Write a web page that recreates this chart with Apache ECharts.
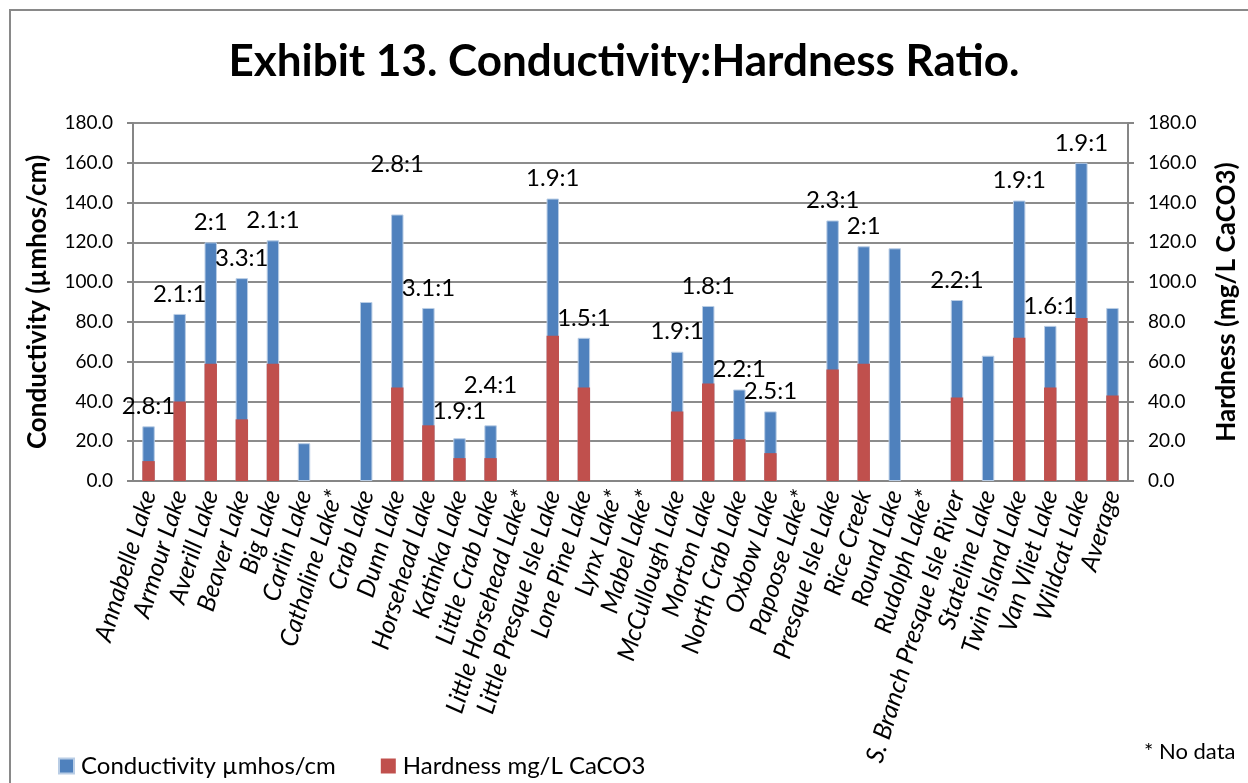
<!DOCTYPE html>
<html><head><meta charset="utf-8">
<script src="https://cdn.jsdelivr.net/npm/echarts@6/dist/echarts.min.js"></script>
<style>html,body{margin:0;padding:0;background:#fff}#c{width:1248px;height:783px}</style>
</head><body><div id="c"></div>
<script>
const categories = ["Annabelle Lake","Armour Lake","Averill Lake","Beaver Lake","Big Lake","Carlin Lake","Cathaline Lake*","Crab Lake","Dunn Lake","Horsehead Lake","Katinka Lake","Little Crab Lake","Little Horsehead Lake*","Little Presque Isle Lake","Lone Pine Lake","Lynx Lake*","Mabel Lake*","McCullough Lake","Morton Lake","North Crab Lake","Oxbow Lake","Papoose Lake*","Presque Isle Lake","Rice Creek","Round Lake","Rudolph Lake*","S. Branch Presque Isle River","Stateline Lake","Twin Island Lake","Van Vliet Lake","Wildcat Lake","Average"];
const conductivity = [27.5,84,120,102,121,19,null,90,134,87,21.5,28,null,142,72,null,null,65,88,46,35,null,131,118,117,null,91,63,141,78,160,87];
const hardness = [10,40,59,31,59,null,null,null,47,28,11.5,11.5,null,73,47,null,null,35,49,21,14,null,56,59,null,null,42,null,72,47,82,43];
const ratios = ["2.8:1","2.1:1","2:1","3.3:1","2.1:1","","","","2.8:1","3.1:1","1.9:1","2.4:1","","1.9:1","1.5:1","","","1.9:1","1.8:1","2.2:1","2.5:1","","2.3:1","2:1","","","2.2:1","","1.9:1","1.6:1","1.9:1",""];
const yTicks = {min:0, max:180, interval:20};
</script>
<script>
// extra vertical lift of a few manually-placed labels (layout only)
const labelLift = {"Dunn Lake":30,"Little Crab Lake":20,"Katinka Lake":7};
const FONT = 'Lato';
const chart = echarts.init(document.getElementById('c'), null, {renderer:'canvas'});
const blueData = conductivity.map((v,i)=>{
  const lift = labelLift[categories[i]] || 0;
  return {value: v, label: {offset:[0,-lift]}};
});
chart.setOption({
  animation:false,
  title:{text:'Exhibit 13. Conductivity:Hardness Ratio.', left:'center', top:35,
    textStyle:{fontFamily:FONT,fontWeight:'bold',fontSize:44,color:'#000'}},
  graphic:[{type:'rect',shape:{x:10,y:10,width:1300,height:900},style:{fill:'none',stroke:'#898989',lineWidth:2},silent:true},
    {type:'text',left:1144,top:741,style:{text:'* No data',font:'22px '+FONT,fill:'#000'}}],
  legend:{left:53,top:749,itemWidth:15,itemHeight:15,itemGap:45,icon:'rect',
    textStyle:{fontFamily:FONT,fontSize:24,color:'#000',padding:[0,0,0,2]},
    data:['Conductivity µmhos/cm','Hardness mg/L CaCO3']},
  grid:{left:133,right:108,top:123,bottom:302,containLabel:false},
  xAxis:{type:'category',data:categories,
    axisLine:{lineStyle:{color:'#868686',width:2}},axisTick:{show:false},
    axisLabel:{rotate:73,interval:0,fontFamily:FONT,fontStyle:'italic',fontSize:25,color:'#000',margin:10}},
  yAxis:[{type:'value',min:yTicks.min,max:yTicks.max,interval:yTicks.interval,
    name:'Conductivity (µmhos/cm)',nameLocation:'middle',nameGap:82,
    nameTextStyle:{fontFamily:FONT,fontWeight:'bold',fontSize:26,color:'#000'},
    axisLine:{show:true,lineStyle:{color:'#868686',width:2}},axisTick:{show:true,length:6,inside:false,lineStyle:{color:'#868686',width:2}},
    axisLabel:{formatter:v=>v.toFixed(1),fontFamily:FONT,fontSize:19,color:'#000',margin:20},
    splitLine:{lineStyle:{color:'#8c8c8c',width:2}}},
   {type:'value',min:yTicks.min,max:yTicks.max,interval:yTicks.interval,
    name:'Hardness (mg/L CaCO3)',nameLocation:'middle',nameGap:86,
    nameTextStyle:{fontFamily:FONT,fontWeight:'bold',fontSize:26,color:'#000'},
    axisLine:{show:true,lineStyle:{color:'#868686',width:2}},axisTick:{show:true,length:6,lineStyle:{color:'#868686',width:2}},
    axisLabel:{formatter:v=>v.toFixed(1),fontFamily:FONT,fontSize:19,color:'#000',margin:20},
    splitLine:{show:false}}],
  series:[
    {name:'Conductivity µmhos/cm',type:'bar',yAxisIndex:0,barWidth:'40%',barGap:'-100%',data:blueData,
     itemStyle:{color:'#4F81BD',borderColor:'#B9CDE5',borderWidth:1},
     label:{show:true,position:'top',distance:8,fontFamily:FONT,fontSize:24,color:'#000',
       formatter:p=>ratios[p.dataIndex]}},
    {name:'Hardness mg/L CaCO3',type:'bar',yAxisIndex:1,barWidth:'40%',data:hardness,
     itemStyle:{color:'#C0504D'}}
  ]
});
</script></body></html>
